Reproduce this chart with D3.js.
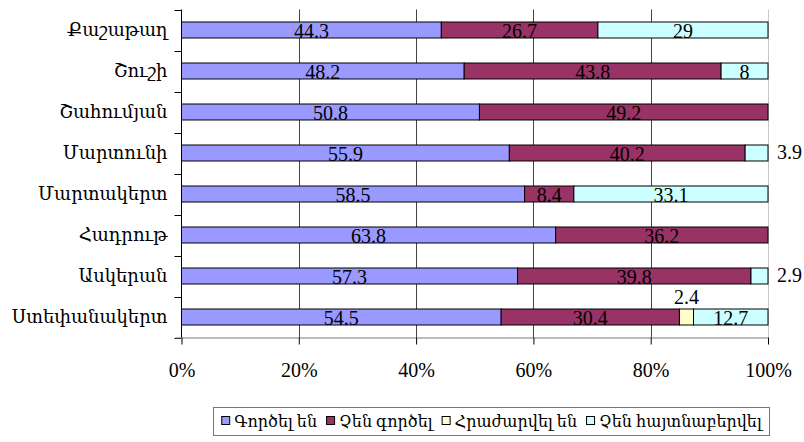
<!DOCTYPE html>
<html><head><meta charset="utf-8">
<script src="https://cdn.jsdelivr.net/npm/d3@7"></script>
<style>
body{margin:0;background:#fff;}
svg{display:block;}
text{font-family:"Liberation Serif","DejaVu Serif",serif;}
</style></head>
<body><svg id="c" width="804" height="442"></svg>
<script>
const categories = ["Քաշաթաղ","Շուշի","Շահումյան","Մարտունի","Մարտակերտ","Հադրութ","Ասկերան","Ստեփանակերտ"];
const seriesNames = ["Գործել են","Չեն գործել","Հրաժարվել են","Չեն հայտնաբերվել"];
const worked    = [44.3, 48.2, 50.8, 55.9, 58.5, 63.8, 57.3, 54.5];
const notWorked = [26.7, 43.8, 49.2, 40.2,  8.4, 36.2, 39.8, 30.4];
const refused   = [0, 0, 0, 0, 0, 0, 0, 2.4];
const notFound  = [29, 8, 0, 3.9, 33.1, 0, 2.9, 12.7];
const tickValues = [0, 20, 40, 60, 80, 100];
const colors = ["#9999FF","#993366","#FFFFCC","#CCFFFF"];

const seriesVals = [worked, notWorked, refused, notFound];
const rows = categories.map((c,i)=>{
  const o = {cat:c};
  seriesNames.forEach((s,j)=>o[s]=seriesVals[j][i]);
  return o;
});

const FONT = "Liberation Serif, DejaVu Serif, serif";
const svg = d3.select("#c");
const m = {left:181.5, right:768, top:9.5, bottom:337.5};
const x = d3.scaleLinear().domain([0,100]).range([m.left, m.right]);
const y = d3.scaleBand().domain(categories).range([m.top, m.bottom]).paddingInner(0.61).paddingOuter(0.305);
const stack = d3.stack().keys(seriesNames)(rows);

// gridlines
svg.append("g").selectAll("line").data(tickValues.filter(t=>t>0)).join("line")
  .attr("x1",d=>Math.round(x(d))+0.5).attr("x2",d=>Math.round(x(d))+0.5)
  .attr("y1",m.top).attr("y2",m.bottom)
  .attr("stroke",d=>d===100?"#c8c8c8":"#444").attr("stroke-width",1);

// bars
const g = svg.append("g");
stack.forEach((layer,j)=>{
  g.selectAll(null).data(layer.filter(d=>d[1]-d[0]>0)).join("rect")
    .attr("x",d=>x(d[0])).attr("width",d=>x(d[1])-x(d[0]))
    .attr("y",d=>y(d.data.cat)).attr("height",y.bandwidth())
    .attr("fill",colors[j]).attr("stroke","#000").attr("stroke-width",1);
});

// labels
stack.forEach((layer,j)=>{
  layer.forEach(d=>{
    const v = d[1]-d[0];
    if (v<=0) return;
    const cy = y(d.data.cat)+y.bandwidth()/2;
    let tx, ty, anchor="middle";
    if (v<5) {
      if (d[1]>=100) { tx = x(100)+9; ty = cy-1; anchor="start"; }
      else { tx = (x(d[0])+x(d[1]))/2; ty = cy-20; }
    } else { tx = (x(d[0])+x(d[1]))/2; ty = cy+1; }
    svg.append("text").attr("x",tx).attr("y",ty).attr("dy","0.36em")
      .attr("text-anchor",anchor).attr("font-size",20).attr("font-family",FONT).attr("fill","#000")
      .text(String(v.toFixed(1)).replace(/\.0$/,""));
  });
});

// y axis
const ya = svg.append("g");
ya.append("line").attr("x1",m.left).attr("x2",m.left).attr("y1",m.top).attr("y2",m.bottom).attr("stroke","#000");
const bounds = d3.range(categories.length+1).map(i=>m.top + i*(m.bottom-m.top)/categories.length);
ya.selectAll("line.t").data(bounds).join("line").attr("class","t")
  .attr("x1",m.left-7).attr("x2",m.left).attr("y1",d=>Math.round(d)+0.5).attr("y2",d=>Math.round(d)+0.5).attr("stroke","#000");
ya.selectAll("text").data(categories).join("text")
  .attr("x",m.left-14).attr("y",d=>y(d)+y.bandwidth()/2).attr("dy","0.36em")
  .attr("text-anchor","end").attr("font-size",18).attr("font-family",FONT).text(d=>d);

// x axis
const xa = svg.append("g").attr("transform",`translate(0,${m.bottom})`)
  .call(d3.axisBottom(x).tickValues(tickValues).tickFormat(d=>d+"%").tickSize(7).tickPadding(18));
xa.select(".domain").attr("stroke","#777").attr("d",`M${m.left-6},0.5H${m.right}`);
xa.selectAll(".tick line").attr("stroke","#000");
xa.selectAll("text").attr("font-size",20).attr("font-family",FONT).attr("fill","#000");

// legend
const lg = svg.append("g");
const box = lg.append("rect").attr("x",213.5).attr("y",407.5).attr("width",556).attr("height",28).attr("fill","#fff").attr("stroke","#777");
let fs = 16;
const items = seriesNames.map((s,j)=>{
  const it = lg.append("g");
  it.append("rect").attr("x",0.5).attr("y",416.5).attr("width",8).attr("height",8)
    .attr("fill",colors[j]).attr("stroke","#000");
  const t = it.append("text").attr("x",13).attr("y",421).attr("dy","0.36em").attr("font-size",fs).attr("font-family",FONT).text(s);
  return {it,t};
});
const gap = 9, boxL = 213.5, boxW = 556, pad = 7;
let widths = items.map(d=>13+d.t.node().getComputedTextLength());
let total = d3.sum(widths)+gap*(items.length-1);
if (total > boxW-2*pad) {
  fs = fs*(boxW-2*pad)/total;
  items.forEach(d=>d.t.attr("font-size",fs));
  widths = items.map(d=>13+d.t.node().getComputedTextLength());
  total = d3.sum(widths)+gap*(items.length-1);
}
let cx = boxL + (boxW-total)/2;
items.forEach((d,i)=>{ d.it.attr("transform",`translate(${cx},0)`); cx += widths[i]+gap; });
</script></body></html>
